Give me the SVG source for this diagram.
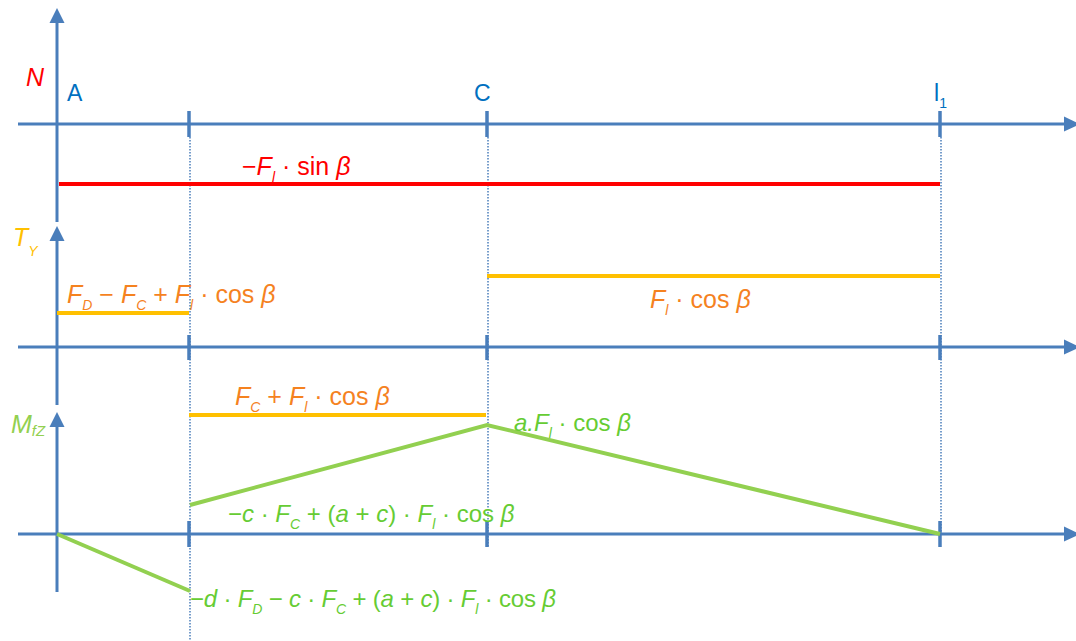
<svg xmlns="http://www.w3.org/2000/svg" width="1076" height="641" viewBox="0 0 1076 641">
<style>
.ax{stroke:#4A7EBB;stroke-width:3;fill:none}
.tk{stroke:#4A7EBB;stroke-width:3.5;fill:none}
.dot{stroke:#4A7EBB;stroke-width:1.5;stroke-dasharray:1.5 1.5;fill:none}
.head{fill:#4A7EBB}
.red{stroke:#FF0000;stroke-width:4;fill:none}
.yel{stroke:#FFC000;stroke-width:4;fill:none}
.grn{stroke:#92D050;stroke-width:4;fill:none;stroke-linejoin:miter}
text{font-family:"Liberation Sans",Arial,sans-serif;font-size:25px}
.i{font-style:italic}
.s{font-size:14px}
.lbl{fill:#0070C0;font-size:23px}
.tr{fill:#FF0000}
.to{fill:#F5821F}
.tg{fill:#66CC33;font-size:24px}
</style>
<rect width="1076" height="641" fill="#FFFFFF"/>
<g id="axes">
<line class="ax" x1="57" y1="222" x2="57" y2="20"/>
<polygon class="head" points="57,8 49.5,23 64.5,23"/>
<line class="ax" x1="57" y1="405" x2="57" y2="238"/>
<polygon class="head" points="57,226 49.5,241 64.5,241"/>
<line class="ax" x1="57" y1="592" x2="57" y2="424"/>
<polygon class="head" points="57,412 49.5,427 64.5,427"/>
<line class="ax" x1="18" y1="124" x2="1066" y2="124"/>
<polygon class="head" points="1080,124 1064,116.5 1064,131.5"/>
<line class="ax" x1="18" y1="347" x2="1066" y2="347"/>
<polygon class="head" points="1080,347 1064,339.5 1064,354.5"/>
<line class="ax" x1="18" y1="534" x2="1066" y2="534"/>
<polygon class="head" points="1080,534 1064,526.5 1064,541.5"/>
<g id="ticks">
<line class="tk" x1="189" y1="111" x2="189" y2="137"/>
<line class="tk" x1="487" y1="111" x2="487" y2="137"/>
<line class="tk" x1="940" y1="111" x2="940" y2="137"/>
<line class="tk" x1="189" y1="335" x2="189" y2="360"/>
<line class="tk" x1="487" y1="335" x2="487" y2="360"/>
<line class="tk" x1="940" y1="335" x2="940" y2="360"/>
<line class="tk" x1="189" y1="521" x2="189" y2="547"/>
<line class="tk" x1="487" y1="521" x2="487" y2="547"/>
<line class="tk" x1="940" y1="521" x2="940" y2="547"/>
</g>
<g id="guides">
<line class="dot" x1="190" y1="137" x2="190" y2="641"/>
<line class="dot" x1="488" y1="137" x2="488" y2="548"/>
<line class="dot" x1="941" y1="137" x2="941" y2="534"/>
</g>
</g>
<g id="labels">
<text class="lbl" x="67" y="101">A</text>
<text class="lbl" x="474" y="101">C</text>
<text class="lbl" x="934" y="101">l<tspan class="s" dy="7">1</tspan></text>
<text class="tr i" x="26" y="86" font-size="23">N</text>
<text class="i" x="13" y="246" fill="#FFC000">T<tspan class="s" dy="10">Y</tspan></text>
<text class="i" x="11" y="433" fill="#92D050" font-size="23">M<tspan font-size="15" dy="3">fZ</tspan></text>
</g>
<g id="connectors">
<line class="red" x1="59" y1="184" x2="940" y2="184"/>
<line class="yel" x1="57" y1="313" x2="189" y2="313"/>
<line class="yel" x1="487" y1="276" x2="940" y2="276"/>
<line class="yel" x1="189" y1="415" x2="486" y2="415"/>
<line class="grn" x1="57" y1="534" x2="190" y2="591"/>
<polyline class="grn" points="190,505 487,425 940,534"/>
</g>
<g id="values">
<text class="tr" x="242" y="175">−<tspan class="i">F</tspan><tspan class="i s" dy="7">l</tspan><tspan dy="-7"> · sin </tspan><tspan class="i">β</tspan></text>
<text class="to" x="67" y="303"><tspan class="i">F</tspan><tspan class="i s" dy="7">D</tspan><tspan dy="-7"> − </tspan><tspan class="i">F</tspan><tspan class="i s" dy="7">C</tspan><tspan dy="-7"> + </tspan><tspan class="i">F</tspan><tspan class="i s" dy="7">l</tspan><tspan dy="-7"> · cos </tspan><tspan class="i">β</tspan></text>
<text class="to" x="650" y="308"><tspan class="i">F</tspan><tspan class="i s" dy="7">l</tspan><tspan dy="-7"> · cos </tspan><tspan class="i">β</tspan></text>
<text class="to" x="235" y="405"><tspan class="i">F</tspan><tspan class="i s" dy="7">C</tspan><tspan dy="-7"> + </tspan><tspan class="i">F</tspan><tspan class="i s" dy="7">l</tspan><tspan dy="-7"> · cos </tspan><tspan class="i">β</tspan></text>
<text class="tg" x="514" y="431"><tspan class="i">a.F</tspan><tspan class="i s" dy="7">l</tspan><tspan dy="-7"> · cos </tspan><tspan class="i">β</tspan></text>
<text class="tg" x="228" y="522">−<tspan class="i">c</tspan> · <tspan class="i">F</tspan><tspan class="i s" dy="7">C</tspan><tspan dy="-7"> + (</tspan><tspan class="i">a</tspan> + <tspan class="i">c</tspan>) · <tspan class="i">F</tspan><tspan class="i s" dy="7">l</tspan><tspan dy="-7"> · cos </tspan><tspan class="i">β</tspan></text>
<text class="tg" x="190" y="607" textLength="366" lengthAdjust="spacing">−<tspan class="i">d</tspan> · <tspan class="i">F</tspan><tspan class="i s" dy="7">D</tspan><tspan dy="-7"> − </tspan><tspan class="i">c</tspan> · <tspan class="i">F</tspan><tspan class="i s" dy="7">C</tspan><tspan dy="-7"> + (</tspan><tspan class="i">a</tspan> + <tspan class="i">c</tspan>) · <tspan class="i">F</tspan><tspan class="i s" dy="7">l</tspan><tspan dy="-7"> · cos </tspan><tspan class="i">β</tspan></text>
</g>
</svg>
